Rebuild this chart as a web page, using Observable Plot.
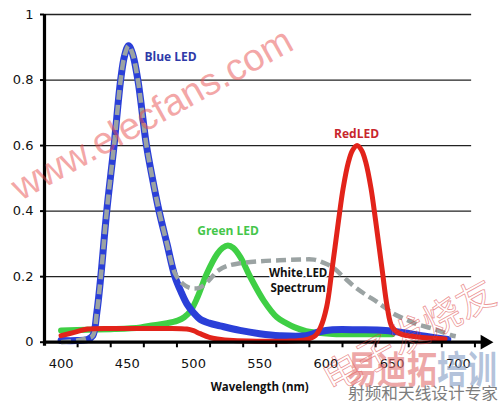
<!DOCTYPE html>
<html>
<head>
<meta charset="utf-8">
<script src="https://cdn.jsdelivr.net/npm/d3@7"></script>
<script src="https://cdn.jsdelivr.net/npm/@observablehq/plot@0.6"></script>
<style>
  html, body { margin: 0; padding: 0; background: #fff; }
  #wrap { position: relative; width: 500px; height: 402px; overflow: hidden; }
  #wm { position: absolute; left: 0; top: 0; pointer-events: none; }
</style>
</head>
<body>
<div id="wrap"></div>
<script>
// ---- data ----
const blueNm  = [400, 412, 420, 424, 427, 430, 434.5, 440, 445, 448, 451, 454, 458, 464.5, 469, 474, 480, 486, 491, 495, 500, 505, 512, 520, 535, 550, 565, 585, 595, 605, 625, 645, 660, 675, 692];
const blueVal = [0.005, 0.005, 0.008, 0.02, 0.09, 0.2, 0.4, 0.6, 0.8, 0.875, 0.905, 0.88, 0.8, 0.6, 0.5, 0.4, 0.3, 0.2, 0.15, 0.117, 0.09, 0.07, 0.058, 0.05, 0.036, 0.026, 0.02, 0.02, 0.032, 0.038, 0.038, 0.036, 0.028, 0.018, 0.008];

const whiteNm  = [400, 412, 420, 424, 427, 430, 434.5, 440, 445, 448, 451, 454, 458, 464.5, 469, 474, 480, 486, 492, 498, 505, 512, 518, 525, 535, 550, 565, 580, 591, 598, 605, 613, 622, 630, 639, 651, 660, 668, 681, 694, 698];
const whiteVal = [0.0, 0.005, 0.012, 0.02, 0.09, 0.2, 0.4, 0.6, 0.8, 0.875, 0.905, 0.88, 0.8, 0.6, 0.5, 0.4, 0.3, 0.21, 0.178, 0.165, 0.167, 0.19, 0.217, 0.232, 0.241, 0.247, 0.25, 0.252, 0.252, 0.243, 0.229, 0.2, 0.168, 0.145, 0.122, 0.087, 0.07, 0.056, 0.041, 0.022, 0.018];

const greenNm  = [400, 420, 440, 460, 470, 480, 488, 493, 498, 503, 510, 518, 522, 526, 530, 535.5, 543, 553, 563, 570, 576, 585, 591, 605, 630, 650];
const greenVal = [0.036, 0.038, 0.04, 0.045, 0.052, 0.058, 0.066, 0.076, 0.097, 0.137, 0.209, 0.27, 0.288, 0.295, 0.288, 0.259, 0.198, 0.127, 0.076, 0.058, 0.046, 0.034, 0.03, 0.025, 0.024, 0.024];

const redNm  = [400, 410, 420, 440, 460, 480, 495, 500, 505, 512, 518, 530, 550, 570, 585, 592, 596, 600.5, 604.5, 609.5, 613, 617, 620, 623.5, 627, 630, 634, 637.5, 642.5, 646.3, 650, 656, 665, 680, 690];
const redVal = [0.02, 0.03, 0.04, 0.042, 0.042, 0.042, 0.04, 0.035, 0.026, 0.015, 0.01, 0.005, 0.003, 0.003, 0.008, 0.02, 0.046, 0.107, 0.219, 0.371, 0.47, 0.55, 0.585, 0.6, 0.585, 0.55, 0.47, 0.371, 0.219, 0.107, 0.046, 0.026, 0.018, 0.012, 0.01];

const xLabels = [400, 450, 500, 550, 600, 650, 700];
const xTickMarks = [412.5, 437.5, 462.5, 487.5, 512.5, 537.5, 562.5, 587.5, 612.5, 637.5, 662.5, 687.5, 712.5];
const yTicks = [0, 0.2, 0.4, 0.6, 0.8, 1];
const gridValues = [0.2, 0.4, 0.6, 0.8, 1];

const seriesLabels = ["Blue LED", "RedLED", "Green LED", "White LED", "Spectrum"];
const seriesLabelNm = [482.7, 623.1, 526.1, 579, 579];
const seriesLabelVal = [0.869, 0.636, 0.338, 0.209, 0.165];
const xTitle = "Wavelength (nm)";

// ---- build tables ----
const toRows = (xs, ys) => xs.map((nm, i) => ({nm, v: ys[i]}));
const blue = toRows(blueNm, blueVal);
const white = toRows(whiteNm, whiteVal);
const green = toRows(greenNm, greenVal);
const red = toRows(redNm, redVal);
const labels = seriesLabels.map((t, i) => ({t, nm: seriesLabelNm[i], v: seriesLabelVal[i]}));

const X0 = 387.5, X1 = 725;
const lineOpts = {x: "nm", y: "v", curve: "catmull-rom", strokeLinecap: "round", strokeLinejoin: "round"};
const labelFont = "Open Sans";

const chart = Plot.plot({
  width: 500,
  height: 402,
  marginLeft: 44,
  marginRight: 9,
  marginTop: 14,
  marginBottom: 60.3,
  style: {fontFamily: "DejaVu Sans", fontSize: "13px", background: "white", color: "#000"},
  x: {domain: [X0, X1], axis: null},
  y: {domain: [0, 1], axis: null},
  marks: [
    Plot.ruleY(gridValues, {x1: X0, x2: 710, stroke: "#222", strokeWidth: 1.3}),
    Plot.ruleY(yTicks, {x1: X0 - 3, x2: X0, stroke: "#000", strokeWidth: 2}),
    Plot.ruleX(xTickMarks, {y1: 0, y2: -0.017, stroke: "#000", strokeWidth: 2}),
    Plot.line(green, {...lineOpts, stroke: "#3fcf45", strokeWidth: 6}),
    Plot.line(blue, {...lineOpts, stroke: "#2a3fd8", strokeWidth: 7}),
    Plot.line(white, {...lineOpts, stroke: "#9ba3a3", strokeWidth: 4.5, strokeDasharray: "10,5", strokeLinecap: "butt"}),
    Plot.line(red, {...lineOpts, stroke: "#e2231a", strokeWidth: 5}),
    Plot.ruleX([X0], {y1: -0.012, y2: 1, stroke: "#000", strokeWidth: 3.2}),
    Plot.ruleY([0], {x1: X0, x2: 719, stroke: "#000", strokeWidth: 3.2}),
    Plot.dot([0], {x: 720, y: 0, symbol: "triangle", rotate: 90, r: 5.5, fill: "#000", stroke: null}),
    Plot.text(yTicks, {x: X0, y: d => d, dx: -11, textAnchor: "end", text: d => String(d), fontSize: 13, fill: "#111"}),
    Plot.text(xLabels, {x: d => d, y: 0, dy: 21.3, text: d => String(d), fontSize: 13, fill: "#111"}),
    Plot.text([xTitle], {x: 550, y: 0, dy: 45.5, text: d => d, fontFamily: labelFont, fontWeight: "bold", fontSize: 11.5, fill: "#111"}),
    Plot.text(labels.slice(0, 1), {x: "nm", y: "v", text: "t", fontFamily: labelFont, fontWeight: "bold", fontSize: 12, fill: "#2e3aa8"}),
    Plot.text(labels.slice(1, 2), {x: "nm", y: "v", text: "t", fontFamily: labelFont, fontWeight: "bold", fontSize: 12, fill: "#c8262c"}),
    Plot.text(labels.slice(2, 3), {x: "nm", y: "v", text: "t", fontFamily: labelFont, fontWeight: "bold", fontSize: 12, fill: "#45c64a"}),
    Plot.text(labels.slice(3), {x: "nm", y: "v", text: "t", fontFamily: labelFont, fontWeight: "bold", fontSize: 11.5, fill: "#111", stroke: "white", strokeWidth: 3, paintOrder: "stroke"})
  ]
});

const wrap = document.getElementById("wrap");
wrap.appendChild(chart);

// ---- watermarks overlaid on the picture ----
const NS = "http://www.w3.org/2000/svg";
const wm = document.createElementNS(NS, "svg");
wm.setAttribute("id", "wm");
wm.setAttribute("width", 500);
wm.setAttribute("height", 402);
function addText(str, attrs) {
  const t = document.createElementNS(NS, "text");
  for (const k in attrs) t.setAttribute(k, attrs[k]);
  t.textContent = str;
  wm.appendChild(t);
  return t;
}
addText("www.elecfans.com", {x: 158, y: 125, "text-anchor": "middle", transform: "rotate(-29 158 125)",
  "font-family": "Liberation Sans, Arial, sans-serif", "font-size": 38, fill: "rgba(232,80,80,0.5)"});
addText("电子发烧友", {x: 409, y: 349, "text-anchor": "middle", transform: "rotate(-29 409 336)",
  "font-family": "Noto Sans CJK SC", "font-size": 38, fill: "none", stroke: "rgba(220,60,60,0.55)", "stroke-width": 0.8});
const big = addText("", {x: 347, y: 383, "font-family": "Noto Sans CJK SC", "font-size": 38, "font-weight": "bold",
  textLength: 150, lengthAdjust: "spacingAndGlyphs"});
const s1 = document.createElementNS(NS, "tspan"); s1.textContent = "易迪拓"; s1.setAttribute("fill", "rgba(226,110,110,0.6)");
const s2 = document.createElementNS(NS, "tspan"); s2.textContent = "培训"; s2.setAttribute("fill", "rgba(130,155,195,0.6)");
big.appendChild(s1); big.appendChild(s2);
addText("射频和天线设计专家", {x: 348, y: 399, "font-family": "Noto Sans CJK SC", "font-size": 16,
  textLength: 150, lengthAdjust: "spacingAndGlyphs", fill: "#7d7d7d"});
wrap.appendChild(wm);
</script>
</body>
</html>
